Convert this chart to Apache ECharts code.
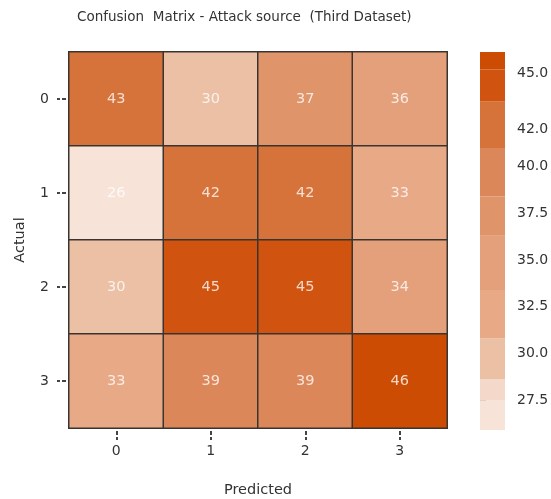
<!DOCTYPE html>
<html>
<head>
<meta charset="utf-8">
<script src="https://cdn.jsdelivr.net/npm/echarts@6/dist/echarts.min.js"></script>
<style>html,body{margin:0;padding:0;background:#fff;}#c{width:551px;height:499px;}</style>
</head>
<body>
<div id="c"></div>
<script>
const predictedLabels = ['0', '1', '2', '3'];
const actualLabels = ['0', '1', '2', '3'];
// rows = actual, columns = predicted
const row0 = [43, 30, 37, 36];
const row1 = [26, 42, 42, 33];
const row2 = [30, 45, 45, 34];
const row3 = [33, 39, 39, 46];
const matrix = [row0, row1, row2, row3];

// colour bar: boundaries (low to high) and colours of each band
const bandEdges = [25.9, 27.5, 28.6, 30.8, 33.4, 36.3, 38.4, 41.0, 43.5, 45.2, 46.14];
const bandColors = ['#f7e3d8', '#f4d8c9', '#ecc0a5', '#e7a986', '#e4a07b', '#e0946a', '#dc875a', '#d6733a', '#d05410', '#cb4c02'];
const colorbarTicks = [27.5, 30.0, 32.5, 35.0, 37.5, 40.0, 42.0, 45.0];

const titleText = 'Confusion  Matrix - Attack source  (Third Dataset)';
const xName = 'Predicted';
const yName = 'Actual';

const FONT = 'DejaVu Sans';
const heatData = [];
matrix.forEach((row, r) => row.forEach((v, c) => heatData.push([c, r, v])));

const pieces = [];
const bandData = [];
for (let i = 0; i < bandColors.length; i++) {
  pieces.push({ gte: bandEdges[i], lt: bandEdges[i + 1], color: bandColors[i] });
  bandData.push([0, bandEdges[i], bandEdges[i + 1], i]);
}

const chart = echarts.init(document.getElementById('c'), null, { renderer: 'canvas' });
chart.setOption({
  animation: false,
  backgroundColor: '#fff',
  title: {
    text: titleText,
    left: 72, top: 5,
    textStyle: { fontFamily: FONT, fontSize: 13.5, fontWeight: 'normal', color: '#333' }
  },
  grid: [
    { left: 69, top: 52, width: 378, height: 376, outerBoundsMode: 'none', containLabel: false },
    { left: 480, top: 52, width: 25, height: 378, outerBoundsMode: 'none', containLabel: false }
  ],
  xAxis: [
    {
      type: 'category', data: predictedLabels, gridIndex: 0, position: 'bottom', offset: 3,
      axisLine: { show: false },
      axisTick: { show: true, alignWithLabel: true, length: 9, lineStyle: { type: [4, 2], width: 2, color: '#444' } },
      axisLabel: { fontFamily: FONT, fontSize: 14, color: '#333', margin: 13 },
      name: xName, nameLocation: 'middle', nameGap: 52,
      nameTextStyle: { fontFamily: FONT, fontSize: 14.5, color: '#333' },
      splitLine: { show: false }
    },
    { type: 'value', gridIndex: 1, min: 0, max: 1, show: false }
  ],
  yAxis: [
    {
      type: 'category', data: actualLabels, gridIndex: 0, inverse: true, offset: 3,
      axisLine: { show: false },
      axisTick: { show: true, alignWithLabel: true, length: 9, lineStyle: { type: [4, 2], width: 2, color: '#444' } },
      axisLabel: { fontFamily: FONT, fontSize: 14, color: '#333', margin: 17 },
      name: yName, nameLocation: 'middle', nameGap: 38, nameRotate: 90,
      nameTextStyle: { fontFamily: FONT, fontSize: 14.5, color: '#333' },
      splitLine: { show: false }
    },
    {
      type: 'value', gridIndex: 1, position: 'right', min: bandEdges[0], max: bandEdges[bandEdges.length - 1],
      axisLine: { show: false },
      splitLine: { show: false },
      axisTick: { show: true, length: 6, customValues: colorbarTicks, lineStyle: { width: 2, color: '#333' } },
      axisLabel: { fontFamily: FONT, fontSize: 14, color: '#333', margin: 12, customValues: colorbarTicks,
        formatter: v => Number(v).toFixed(1) }
    }
  ],
  visualMap: {
    type: 'piecewise', show: false, seriesIndex: 0, dimension: 2, pieces: pieces
  },
  series: [
    {
      type: 'heatmap', xAxisIndex: 0, yAxisIndex: 0, data: heatData,
      label: { show: true, fontFamily: FONT, fontSize: 14.5, color: 'rgba(255,255,255,0.78)' },
      itemStyle: { borderColor: '#3a3430', borderWidth: 1.5 },
      emphasis: { disabled: true }
    },
    {
      type: 'custom', xAxisIndex: 1, yAxisIndex: 1, data: bandData,
      encode: { x: 0, y: [1, 2] },
      renderItem: function (params, api) {
        const top = api.coord([0, api.value(2)]);
        const bot = api.coord([1, api.value(1)]);
        return {
          type: 'rect',
          shape: { x: top[0], y: top[1], width: bot[0] - top[0], height: bot[1] - top[1] },
          style: { fill: bandColors[api.value(3)] }
        };
      }
    }
  ]
});
</script>
</body>
</html>
